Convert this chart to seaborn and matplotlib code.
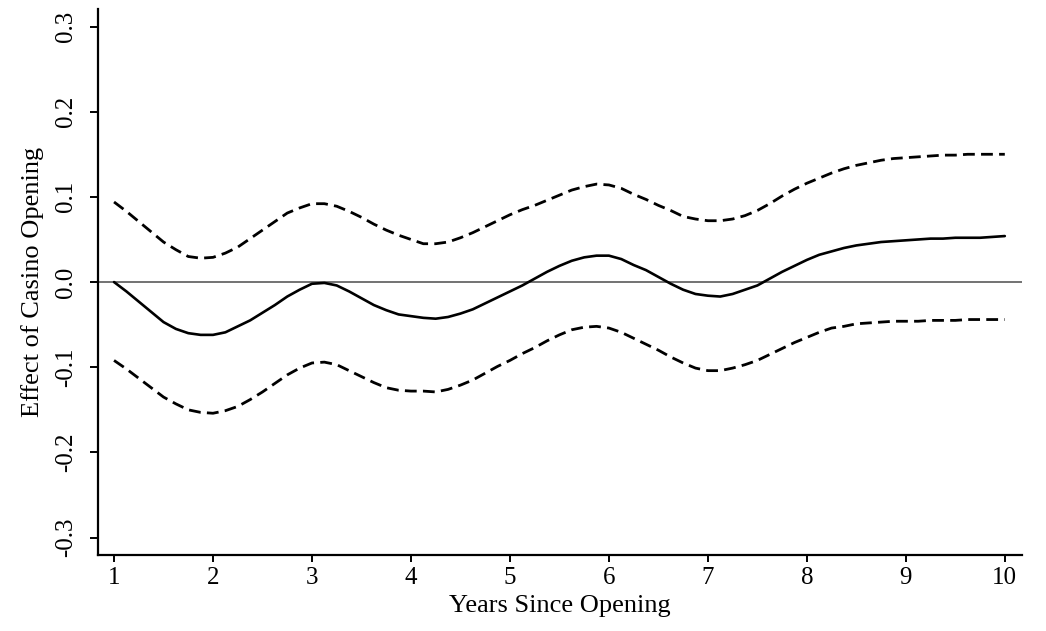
import matplotlib
matplotlib.use("Agg")
import matplotlib.pyplot as plt
import pandas as pd
import seaborn as sns

# Years since opening, sampled every eighth of a year
years = [1.0, 1.125, 1.25, 1.375, 1.5, 1.625, 1.75, 1.875,
         2.0, 2.125, 2.25, 2.375, 2.5, 2.625, 2.75, 2.875,
         3.0, 3.125, 3.25, 3.375, 3.5, 3.625, 3.75, 3.875,
         4.0, 4.125, 4.25, 4.375, 4.5, 4.625, 4.75, 4.875,
         5.0, 5.125, 5.25, 5.375, 5.5, 5.625, 5.75, 5.875,
         6.0, 6.125, 6.25, 6.375, 6.5, 6.625, 6.75, 6.875,
         7.0, 7.125, 7.25, 7.375, 7.5, 7.625, 7.75, 7.875,
         8.0, 8.125, 8.25, 8.375, 8.5, 8.625, 8.75, 8.875,
         9.0, 9.125, 9.25, 9.375, 9.5, 9.625, 9.75, 9.875, 10.0]

# Point estimate of the casino-opening effect
estimate = [0.000, -0.011, -0.023, -0.035, -0.047, -0.055, -0.060, -0.062,
            -0.062, -0.059, -0.052, -0.045, -0.036, -0.027, -0.017, -0.009,
            -0.002, -0.001, -0.004, -0.011, -0.019, -0.027, -0.033, -0.038,
            -0.040, -0.042, -0.043, -0.041, -0.037, -0.032, -0.025, -0.018,
            -0.011, -0.004, 0.004, 0.012, 0.019, 0.025, 0.029, 0.031,
            0.031, 0.027, 0.020, 0.014, 0.006, -0.002, -0.009, -0.014,
            -0.016, -0.017, -0.014, -0.009, -0.004, 0.004, 0.012, 0.019,
            0.026, 0.032, 0.036, 0.040, 0.043, 0.045, 0.047, 0.048,
            0.049, 0.050, 0.051, 0.051, 0.052, 0.052, 0.052, 0.053, 0.054]

# Upper confidence bound
upper = [0.094, 0.083, 0.071, 0.059, 0.047, 0.038, 0.030, 0.028,
         0.029, 0.034, 0.041, 0.051, 0.061, 0.071, 0.081, 0.087,
         0.092, 0.092, 0.089, 0.083, 0.076, 0.068, 0.061, 0.055,
         0.050, 0.045, 0.045, 0.047, 0.052, 0.058, 0.065, 0.072,
         0.079, 0.085, 0.090, 0.096, 0.102, 0.108, 0.112, 0.115,
         0.114, 0.110, 0.103, 0.097, 0.090, 0.084, 0.077, 0.074,
         0.072, 0.072, 0.074, 0.078, 0.084, 0.092, 0.101, 0.109,
         0.116, 0.122, 0.128, 0.133, 0.137, 0.140, 0.143, 0.145,
         0.146, 0.147, 0.148, 0.149, 0.149, 0.150, 0.150, 0.150, 0.150]

# Lower confidence bound
lower = [-0.092, -0.102, -0.113, -0.124, -0.135, -0.143, -0.150, -0.153,
         -0.154, -0.151, -0.146, -0.138, -0.129, -0.119, -0.109, -0.101,
         -0.095, -0.094, -0.097, -0.104, -0.111, -0.118, -0.124, -0.127,
         -0.128, -0.128, -0.129, -0.126, -0.121, -0.115, -0.107, -0.099,
         -0.092, -0.084, -0.077, -0.069, -0.062, -0.056, -0.053, -0.052,
         -0.054, -0.059, -0.066, -0.073, -0.080, -0.088, -0.095, -0.101,
         -0.104, -0.104, -0.101, -0.097, -0.092, -0.085, -0.078, -0.071,
         -0.065, -0.059, -0.054, -0.052, -0.049, -0.048, -0.047, -0.046,
         -0.046, -0.046, -0.045, -0.045, -0.045, -0.044, -0.044, -0.044, -0.044]

x_ticks = [1, 2, 3, 4, 5, 6, 7, 8, 9, 10]
y_ticks = [-0.3, -0.2, -0.1, 0.0, 0.1, 0.2, 0.3]
y_tick_labels = ["-0.3", "-0.2", "-0.1", "0.0", "0.1", "0.2", "0.3"]

sns.set_theme(style="ticks")
plt.rcParams["font.family"] = ["Liberation Serif", "DejaVu Serif"]
plt.rcParams["lines.scale_dashes"] = False
plt.rcParams["text.color"] = "black"
plt.rcParams["axes.labelcolor"] = "black"
plt.rcParams["xtick.color"] = "black"
plt.rcParams["ytick.color"] = "black"
plt.rcParams["lines.solid_joinstyle"] = "round"
plt.rcParams["lines.dash_joinstyle"] = "round"

fig = plt.figure(figsize=(10.46, 6.31), dpi=100)
ax = fig.add_axes([0.0937, 0.121, 0.883, 0.864])

df = pd.DataFrame({"year": years, "estimate": estimate,
                   "upper": upper, "lower": lower})

# Reference line at zero
ax.axhline(0.0, color="#5a5a5a", lw=1.2, zorder=1)

dash = (0, (8.5, 4.5))
sns.lineplot(data=df, x="year", y="upper", ax=ax, color="black", lw=2.0,
             linestyle=dash, zorder=3)
sns.lineplot(data=df, x="year", y="lower", ax=ax, color="black", lw=2.0,
             linestyle=dash, zorder=3)
sns.lineplot(data=df, x="year", y="estimate", ax=ax, color="black", lw=1.9,
             zorder=4)

ax.set_xlim(0.838, 10.17)
ax.set_ylim(-0.32, 0.32)
ax.set_xticks(x_ticks)
ax.set_xticklabels([str(t) for t in x_ticks])
ax.set_yticks(y_ticks)
ax.set_yticklabels(y_tick_labels, rotation=90, va="center")

for side in ["top", "right"]:
    ax.spines[side].set_visible(False)
for side in ["left", "bottom"]:
    ax.spines[side].set_linewidth(1.6)
    ax.spines[side].set_color("black")

ax.tick_params(axis="y", length=6, width=1.4, pad=9, labelsize=18)
ax.tick_params(axis="x", length=5, width=1.4, pad=4, labelsize=18)

ax.set_xlabel("Years Since Opening", fontsize=19, labelpad=4)
ax.set_ylabel("Effect of Casino Opening", fontsize=19, labelpad=8)

fig.savefig("out.png", dpi=100, facecolor="white")
